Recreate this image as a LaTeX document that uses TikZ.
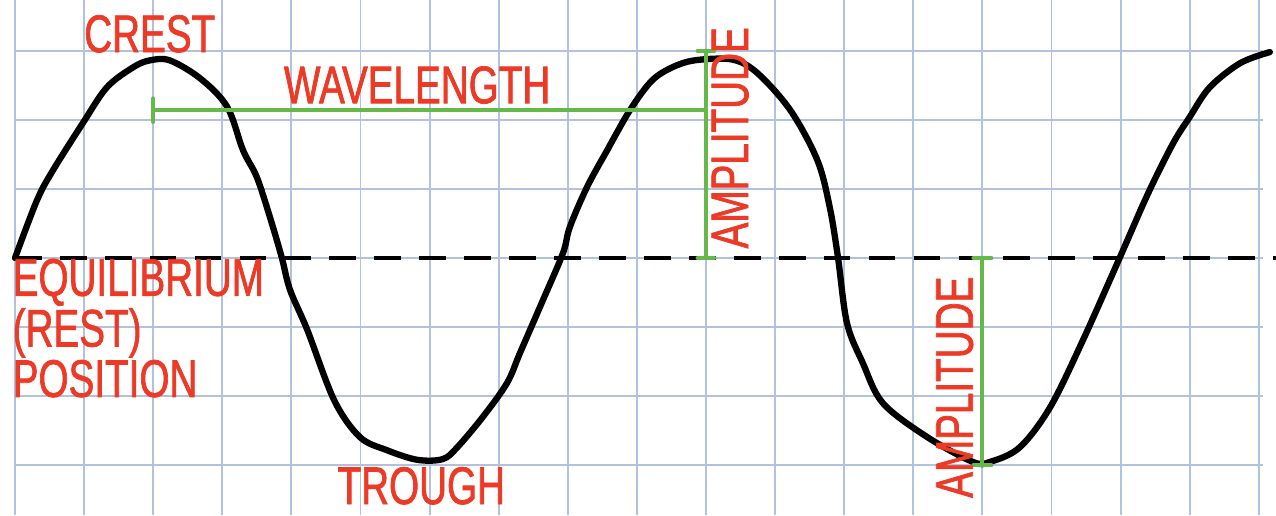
\documentclass[tikz,border=0pt]{standalone}
\usepackage{fontspec}
\newfontfamily\wavefont{Liberation Sans}[FakeStretch=0.73,FakeBold=1.3]
\definecolor{gridblue}{RGB}{178,193,221}
\definecolor{labelred}{RGB}{236,58,38}
\definecolor{markgreen}{RGB}{100,185,72}
\tikzset{
  gridline/.style={draw=gridblue, line width=0.8pt},
  waveline/.style={draw=black, line width=2.6pt, line cap=round, line join=round},
  restline/.style={draw=black, line width=1.4pt, dash pattern=on 11pt off 7.5pt},
  measure/.style={draw=markgreen, line width=1.7pt, line cap=round},
  wavelabel/.style={text=labelred, inner sep=0pt, font=\wavefont\fontsize{21.8}{19.3}\selectfont}
}
\begin{document}
\begin{tikzpicture}[x=1cm,y=1cm]
		\useasboundingbox (-0.217,-3.719) rectangle (18.249,3.734);
		\foreach \i in {0,...,18}
			\draw[gridline] (\i,-3.72) -- (\i,3.74);
		\foreach \j in {-3,...,3}
			\draw[gridline] (0,\j) -- (18.06,\j);
		\coordinate (restleft) at (0,0);
		\coordinate (restright) at (18.25,0);
		\draw[restline] (restleft) -- (restright);
		\draw[waveline] plot[smooth, tension=0.55] coordinates {
			(0,0) (0.32,0.84) (0.55,1.27) (0.98,1.95) (1.33,2.47) (1.71,2.76)
			(1.95,2.86) (2.24,2.86) (2.68,2.60) (3.07,2.19) (3.30,1.56) (3.50,1.17)
			(3.69,0.59) (3.86,0.01) (3.98,-0.46) (4.23,-1.04) (4.62,-2.06)
			(4.99,-2.59) (5.38,-2.78) (5.82,-2.92) (6.19,-2.91) (6.40,-2.74) (6.77,-2.30)
			(7.12,-1.81) (7.31,-1.37) (7.64,-0.61) (7.93,0.07) (8.03,0.45) (8.28,1.03)
			(8.57,1.56) (8.90,2.14) (9.23,2.58) (9.58,2.79) (9.91,2.87) (10.39,2.87)
			(10.74,2.68) (11.22,2.14) (11.61,1.42) (11.79,0.74) (11.91,0.01) (12.04,-0.94)
			(12.27,-1.52) (12.56,-2.10) (13.20,-2.59) (13.86,-2.95) (14.11,-2.95) (14.54,-2.74)
			(14.98,-2.16) (15.45,-1.20) (15.99,0.01) (16.40,0.94) (16.76,1.66)
			(17.00,2.04) (17.29,2.47) (17.73,2.82) (18.16,2.98)};
		\coordinate (wlstart) at (2,2.14);
		\coordinate (wlend) at (10,2.14);
		\coordinate (amponetop) at (10,3);
		\coordinate (amponebot) at (10,0);
		\coordinate (amptwotop) at (14,0);
		\coordinate (amptwobot) at (14,-3);
		\draw[measure] (wlstart) -- (wlend);
		\draw[measure] ([yshift=0.17cm]wlstart) -- ([yshift=-0.17cm]wlstart);
		\draw[measure] (amponebot) -- (amponetop);
		\draw[measure] ([xshift=-0.12cm]amponetop) -- ([xshift=0.12cm]amponetop);
		\draw[measure] ([xshift=-0.12cm]amponebot) -- ([xshift=0.12cm]amponebot);
		\draw[measure] (amptwotop) -- (amptwobot);
		\draw[measure] ([xshift=-0.13cm]amptwotop) -- ([xshift=0.13cm]amptwotop);
		\draw[measure] ([xshift=-0.13cm]amptwobot) -- ([xshift=0.13cm]amptwobot);
		\node[wavelabel, anchor=base] (crest) at (1.95,2.98) {CREST};
		\node[wavelabel, anchor=base] (wavelength) at (5.82,2.24) {WAVELENGTH};
		\node[wavelabel, anchor=base] (trough) at (5.88,-3.56) {TROUGH};
		\node[wavelabel, anchor=base west, align=left] (restpos) at (-0.04,-2.01) {EQUILIBRIUM\\(REST)\\POSITION};
		\node[wavelabel, anchor=base, rotate=90] (ampone) at (10.61,1.74) {AMPLITUDE};
		\node[wavelabel, anchor=base, rotate=90] (amptwo) at (13.86,-1.87) {AMPLITUDE};
	\end{tikzpicture}
\end{document}
